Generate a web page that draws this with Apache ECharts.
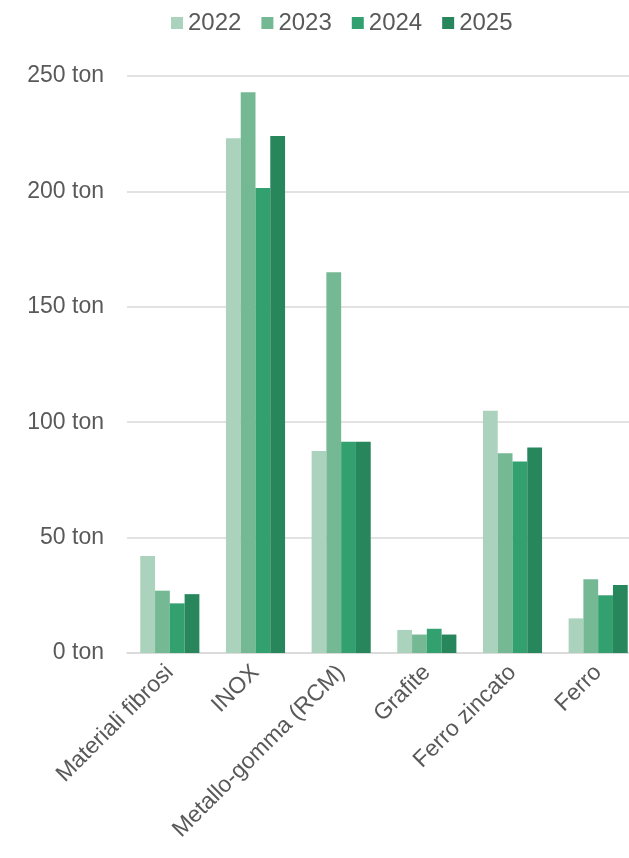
<!DOCTYPE html>
<html>
<head>
<meta charset="utf-8">
<script src="https://cdn.jsdelivr.net/npm/echarts@6/dist/echarts.min.js"></script>
<style>
  html, body { margin: 0; padding: 0; background: #ffffff; }
  #chart { width: 629px; height: 858px; }
</style>
</head>
<body>
<div id="chart"></div>
<script>
// Materials handled per year, in tonnes
const categories = ['Materiali fibrosi', 'INOX', 'Metallo-gomma (RCM)', 'Grafite', 'Ferro zincato', 'Ferro'];
const years = ['2022', '2023', '2024', '2025'];
const values2022 = [42, 223, 87.5, 10, 105, 15];
const values2023 = [27, 243, 165, 8, 86.5, 32];
const values2024 = [21.5, 201.5, 91.5, 10.5, 83, 25];
const values2025 = [25.5, 224, 91.5, 8, 89, 29.5];
const yearColors = ['#abd2bc', '#74b894', '#33a06f', '#27865c'];

const seriesValues = [values2022, values2023, values2024, values2025];

const chart = echarts.init(document.getElementById('chart'), null, { renderer: 'canvas' });

const textColor = '#595959';
const lineColor = '#d9d9d9';
const fontFamily = '"Liberation Sans", Arial, sans-serif';

chart.setOption({
  animation: false,
  backgroundColor: '#ffffff',
  color: yearColors,
  legend: {
    data: years,
    top: 6,
    left: 166,
    itemWidth: 12,
    itemHeight: 12,
    itemGap: 20,
    icon: 'rect',
    textStyle: { color: textColor, fontSize: 24, fontFamily: fontFamily }
  },
  grid: {
    left: 127,
    top: 76,
    width: 514,
    bottom: 205,
    containLabel: false,
    outerBoundsMode: 'none'
  },
  xAxis: {
    type: 'category',
    data: categories,
    axisLine: { show: true, lineStyle: { color: lineColor, width: 1.5 } },
    axisTick: { show: false },
    axisLabel: {
      rotate: 45,
      interval: 0,
      margin: 16,
      color: textColor,
      fontSize: 23,
      fontFamily: fontFamily
    }
  },
  yAxis: {
    type: 'value',
    min: 0,
    max: 250,
    interval: 50,
    axisLine: { show: false },
    axisTick: { show: false },
    splitLine: { lineStyle: { color: lineColor, width: 1.5 } },
    axisLabel: {
      margin: 23,
      color: textColor,
      fontSize: 23,
      fontFamily: fontFamily,
      formatter: v => v + ' ton'
    }
  },
  series: years.map((y, i) => ({
    name: y,
    type: 'bar',
    data: seriesValues[i],
    barGap: '0%',
    barCategoryGap: '31%',
    itemStyle: { color: yearColors[i] }
  }))
});
</script>
</body>
</html>
